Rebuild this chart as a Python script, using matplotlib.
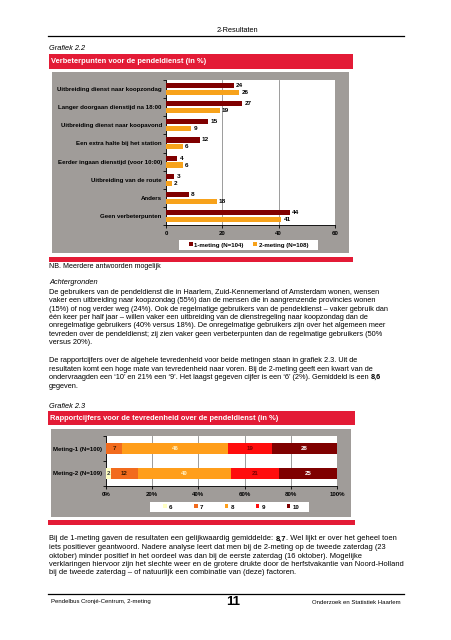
import matplotlib
matplotlib.use("Agg")
import matplotlib.pyplot as plt
from matplotlib.patches import Rectangle
from matplotlib.lines import Line2D

plt.rcParams['font.family'] = ['Liberation Sans', 'DejaVu Sans']

# Grafiek 2.2 data
categories = ['Uitbreiding dienst naar koopzondag', 'Langer doorgaan dienstijd na 18:00',
              'Uitbreiding dienst naar koopavond', 'Een extra halte bij het station',
              'Eerder ingaan dienstijd (voor 10:00)', 'Uitbreiding van de route',
              'Anders', 'Geen verbeterpunten']
meting1 = [24, 27, 15, 12, 4, 3, 8, 44]
meting2 = [26, 19, 9, 6, 6, 2, 18, 41]
series_names = ['1-meting (N=104)', '2-meting (N=108)']
xticks1 = [0, 20, 40, 60]

# Grafiek 2.3 data
rapport_labels = ['Meting-1 (N=100)', 'Meting-2 (N=109)']
grades = ['6', '7', '8', '9', '10']
rapport_m1 = [0, 7, 46, 19, 28]
rapport_m2 = [2, 12, 40, 21, 25]
xticks2 = [0, 20, 40, 60, 80, 100]

W, H = 452, 640
fig = plt.figure(figsize=(W / 100, H / 100), dpi=100)
fig.patch.set_facecolor('white')

RED = '#E31B36'
GREY = '#A09C99'
TXT = 5.3


def frac(x0, y0, x1, y1):
    return [x0 / W, 1 - y1 / H, (x1 - x0) / W, (y1 - y0) / H]


def rect(x0, y0, x1, y1, color):
    fig.add_artist(Rectangle((x0 / W, 1 - y1 / H), (x1 - x0) / W, (y1 - y0) / H,
                             transform=fig.transFigure, facecolor=color, edgecolor='none', zorder=0))


def hline(x0, x1, y, lw=1.0):
    fig.add_artist(Line2D([x0 / W, x1 / W], [1 - y / H, 1 - y / H], transform=fig.transFigure,
                          color='black', lw=lw))


def ftext(x, y, s, **kw):
    return fig.text(x / W, 1 - y / H, s, va='center', **kw)


renderer = fig.canvas.get_renderer()


def rich_line(x, y, parts, size=TXT):
    # parts: list of (text, bold)
    for s, bold in parts:
        t = ftext(x, y, s, fontsize=size, fontweight='bold' if bold else 'normal')
        bb = t.get_window_extent(renderer)
        x += bb.width


# header
ftext(237, 31, '2-Resultaten', fontsize=TXT, ha='center')
hline(48, 404, 35.5, lw=0.9)

# ---------- Grafiek 2.2 ----------
ftext(49, 49, 'Grafiek 2.2', fontsize=TXT, style='italic')
rect(49, 54, 353, 69, RED)
ftext(51, 61.5, 'Verbeterpunten voor de pendeldienst (in %)', fontsize=5.4, color='white', fontweight='bold')
rect(52, 72, 349, 253, GREY)
rect(49, 257, 353, 262, RED)
ftext(49, 267, 'NB. Meerdere antwoorden mogelijk', fontsize=TXT - 0.2)

ax1 = fig.add_axes(frac(166, 80, 335, 225))
pos = list(range(len(categories)))
b1 = ax1.barh([p - 0.19 for p in pos], meting1, height=0.28, color='#800000', zorder=3)
b2 = ax1.barh([p + 0.19 for p in pos], meting2, height=0.28, color='#F7A21B', zorder=3)
for p, v in zip(pos, meting1):
    ax1.text(v + 0.8, p - 0.19, str(v), va='center', fontsize=4.6, fontweight='bold')
for p, v in zip(pos, meting2):
    ax1.text(v + 0.8, p + 0.19, str(v), va='center', fontsize=4.6, fontweight='bold')
ax1.set_xlim(0, 60)
ax1.set_ylim(len(categories) - 0.5, -0.5)
ax1.set_xticks(xticks1)
ax1.set_xticklabels([str(t) for t in xticks1], fontsize=4.4, fontweight='bold')
ax1.set_yticks([p - 0.5 for p in pos] + [len(pos) - 0.5])
ax1.set_yticklabels([])
ax1.set_yticks(pos, minor=True)
ax1.set_yticklabels(categories, minor=True, fontsize=4.4, fontweight='bold')
ax1.tick_params(axis='y', which='minor', length=0, pad=3)
ax1.tick_params(axis='y', which='major', length=2, width=0.6)
ax1.tick_params(axis='x', length=2, width=0.6, pad=2)
ax1.xaxis.grid(True, color='#8C8C8C', lw=0.6, zorder=0)
for s in ['top', 'right']:
    ax1.spines[s].set_visible(False)
for s in ['left', 'bottom']:
    ax1.spines[s].set_linewidth(0.6)

rect(179, 240, 318, 250, 'white')
fig.legend([b1, b2], series_names, loc='center', bbox_to_anchor=(248.5 / W, 1 - 245 / H),
           ncol=2, frameon=False, prop={'weight': 'bold', 'size': 4.4},
           handlelength=0.6, handleheight=0.6, handletextpad=0.3, columnspacing=1.5,
           borderpad=0.1)

# ---------- text ----------
ftext(49, 283, 'Achtergronden', fontsize=TXT, style='italic')
para1 = [
    'De gebruikers van de pendeldienst die in Haarlem, Zuid-Kennemerland of Amsterdam wonen, wensen',
    'vaker een uitbreiding naar koopzondag (55%) dan de mensen die in aangrenzende provincies wonen',
    '(15%) of nog verder weg (24%). Ook de regelmatige gebruikers van de pendeldienst \u2013 vaker gebruik dan',
    '\u00e9\u00e9n keer per half jaar \u2013 willen vaker een uitbreiding van de dienstregeling naar koopzondag dan de',
    'onregelmatige gebruikers (40% versus 18%). De onregelmatige gebruikers zijn over het algemeen meer',
    'tevreden over de pendeldienst; zij zien vaker geen verbeterpunten dan de regelmatige gebruikers (50%',
    'versus 20%).',
]
for i, line in enumerate(para1):
    ftext(49, 292.5 + i * 8.35, line, fontsize=TXT)

para2 = [
    [('De rapportcijfers over de algehele tevredenheid voor beide metingen staan in grafiek 2.3. Uit de', False)],
    [('resultaten komt een hoge mate van tevredenheid naar voren. Bij de 2-meting geeft een kwart van de', False)],
    [('ondervraagden een \u201810\u2019 en 21% een \u20189\u2019. Het laagst gegeven cijfer is een \u20186\u2019 (2%). Gemiddeld is een ', False),
     ('8,6', True)],
    [('gegeven.', False)],
]
for i, parts in enumerate(para2):
    rich_line(49, 361 + i * 8.35, parts)

# ---------- Grafiek 2.3 ----------
ftext(49, 406, 'Grafiek 2.3', fontsize=TXT, style='italic')
rect(48, 411, 355, 425, RED)
ftext(50, 418, 'Rapportcijfers voor de tevredenheid over de pendeldienst (in %)', fontsize=5.4,
      color='white', fontweight='bold')
rect(51, 429, 351, 517, GREY)
rect(48, 520, 355, 525, RED)

ax2 = fig.add_axes(frac(106, 436, 337, 486))
grade_colors = ['#FFFFC2', '#F26B1D', '#FF9E1B', '#FF0D0D', '#7F0000']
label_colors = ['#333333', '#3A1A00', '#FFF2C8', '#7A0000', '#FFFFFF']
rows = [rapport_m1, rapport_m2]
handles = []
lefts = [0, 0]
for g in range(len(grades)):
    vals = [r[g] for r in rows]
    h = ax2.barh([0, 1], vals, left=lefts, height=0.44, color=grade_colors[g], zorder=3)
    handles.append(h)
    for r, v in enumerate(vals):
        if v > 0:
            ax2.text(lefts[r] + v / 2, r, str(v), ha='center', va='center', fontsize=4.4,
                     fontweight='bold', color=label_colors[g], zorder=4)
    lefts = [lefts[r] + vals[r] for r in range(2)]
ax2.set_xlim(0, 100)
ax2.set_ylim(1.5, -0.5)
ax2.set_xticks(xticks2)
ax2.set_xticklabels([f'{t}%' for t in xticks2], fontsize=4.4, fontweight='bold')
ax2.set_yticks([-0.5, 0.5, 1.5])
ax2.set_yticklabels([])
ax2.set_yticks([0, 1], minor=True)
ax2.set_yticklabels(rapport_labels, minor=True, fontsize=4.4, fontweight='bold')
ax2.tick_params(axis='y', which='minor', length=0, pad=3)
ax2.tick_params(axis='y', which='major', length=2, width=0.6)
ax2.tick_params(axis='x', length=2, width=0.6, pad=2)
ax2.xaxis.grid(True, color='#8C8C8C', lw=0.6, zorder=0)
for s in ['top', 'right']:
    ax2.spines[s].set_visible(False)
for s in ['left', 'bottom']:
    ax2.spines[s].set_linewidth(0.6)

rect(150, 502, 309, 512, 'white')
fig.legend(handles, grades, loc='center', bbox_to_anchor=(231 / W, 1 - 507 / H),
           ncol=5, frameon=False, prop={'weight': 'bold', 'size': 4.4},
           handlelength=0.6, handleheight=0.6, handletextpad=0.3, columnspacing=3.6,
           borderpad=0.1)

# ---------- closing text ----------
para3 = [
    [('Bij de 1-meting gaven de resultaten een gelijkwaardig gemiddelde: ', False), ('8,7', True),
     ('. Wel lijkt er over het geheel toen', False)],
    [('iets positiever geantwoord. Nadere analyse leert dat men bij de 2-meting op de tweede zaterdag (23', False)],
    [('oktober) minder positief in het oordeel was dan bij de eerste zaterdag (16 oktober). Mogelijke', False)],
    [('verklaringen hiervoor zijn het slechte weer en de grotere drukte door de herfstvakantie van Noord-Holland', False)],
    [('bij de tweede zaterdag \u2013 of natuurlijk een combinatie van (deze) factoren.', False)],
]
for i, parts in enumerate(para3):
    rich_line(49, 539 + i * 8.5, parts, size=5.45)

# footer
hline(48, 404, 594, lw=0.9)
ftext(51, 602, 'Pendelbus Cronj\u00e9-Centrum, 2-meting', fontsize=4.3)
ftext(233, 602, '11', fontsize=9.5, fontweight='bold', ha='center')
ftext(401, 602, 'Onderzoek en Statistiek Haarlem', fontsize=4.3, ha='right')

fig.savefig('out.png', dpi=100, facecolor='white')
